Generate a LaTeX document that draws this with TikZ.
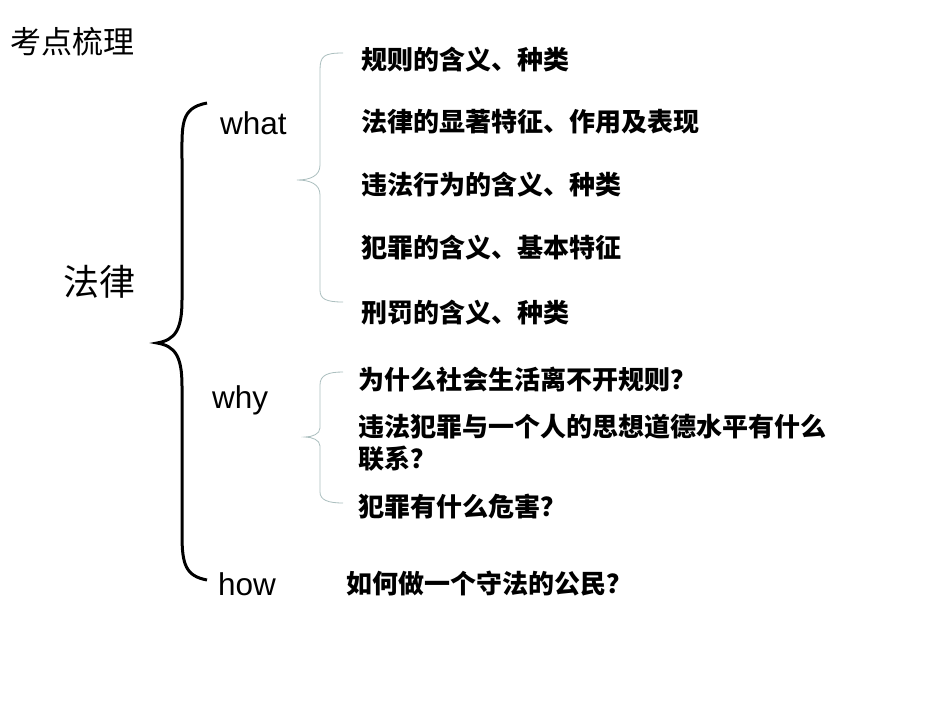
\documentclass[tikz,border=0pt]{standalone}
\usepackage{fontspec}
\setmainfont{Liberation Sans}
\newfontfamily\cjk{Noto Sans CJK SC}
\begin{document}
\begin{tikzpicture}[x=1pt,y=-1pt,
  item/.style={anchor=west,inner sep=0pt,font=\cjk\fontsize{26}{30}\selectfont\bfseries},
  eng/.style={anchor=west,inner sep=0pt,font=\fontsize{31.5}{34}\selectfont},
  sb/.style={draw=teal!30!gray!50,line width=0.8pt}]
\useasboundingbox (0,0) rectangle (950,713);
\fill[white] (0,0) rectangle (950,713);
\node[anchor=west,inner sep=0pt,font=\cjk\fontsize{31}{34}\selectfont] (title) at (10,42) {考点梳理};
\node[anchor=west,inner sep=0pt,font=\cjk\fontsize{36}{40}\selectfont] (law) at (63,282) {法律};
\node[eng] (what) at (220,123) {what};
\node[eng] (why) at (212,400) {why};
\node[eng] (how) at (218,584) {how};
\node[item] (a1) at (361,60) {规则的含义、种类};
\node[item] (a2) at (361,122) {法律的显著特征、作用及表现};
\node[item] (a3) at (361,185) {违法行为的含义、种类};
\node[item] (a4) at (361,248) {犯罪的含义、基本特征};
\node[item] (a5) at (361,313) {刑罚的含义、种类};
\node[item] (b1) at (358,380) {为什么社会生活离不开规则？};
\node[item,align=left,font=\cjk\fontsize{26}{32}\selectfont\bfseries] (b2) at (358,443) {违法犯罪与一个人的思想道德水平有什么\\联系？};
\node[item] (b3) at (358,507) {犯罪有什么危害？};
\node[item] (c1) at (346,584) {如何做一个守法的公民？};
% big brace
\draw[line width=3pt] (207,103) .. controls (180,108) and (182,125) .. (182,160)
  -- (182,300) .. controls (182,330) and (175,340) .. (157,343)
  .. controls (175,346) and (182,356) .. (182,386) -- (182,535)
  .. controls (182,565) and (186,576) .. (207,580);
% small braces
\draw[sb] (343,53) .. controls (324,53) and (320,56) .. (320,70) -- (320,165)
  .. controls (320,176) and (310,180) .. (297,180)
  .. controls (310,180) and (320,184) .. (320,195) -- (320,290)
  .. controls (320,299) and (326,302) .. (343,302);
\draw[sb] (343,372) .. controls (328,372) and (320,375) .. (320,385) -- (320,428)
  .. controls (320,434) and (312,437) .. (305,437)
  .. controls (312,437) and (320,440) .. (320,446) -- (320,492)
  .. controls (320,500) and (328,503) .. (343,503);
\end{tikzpicture}
\end{document}
